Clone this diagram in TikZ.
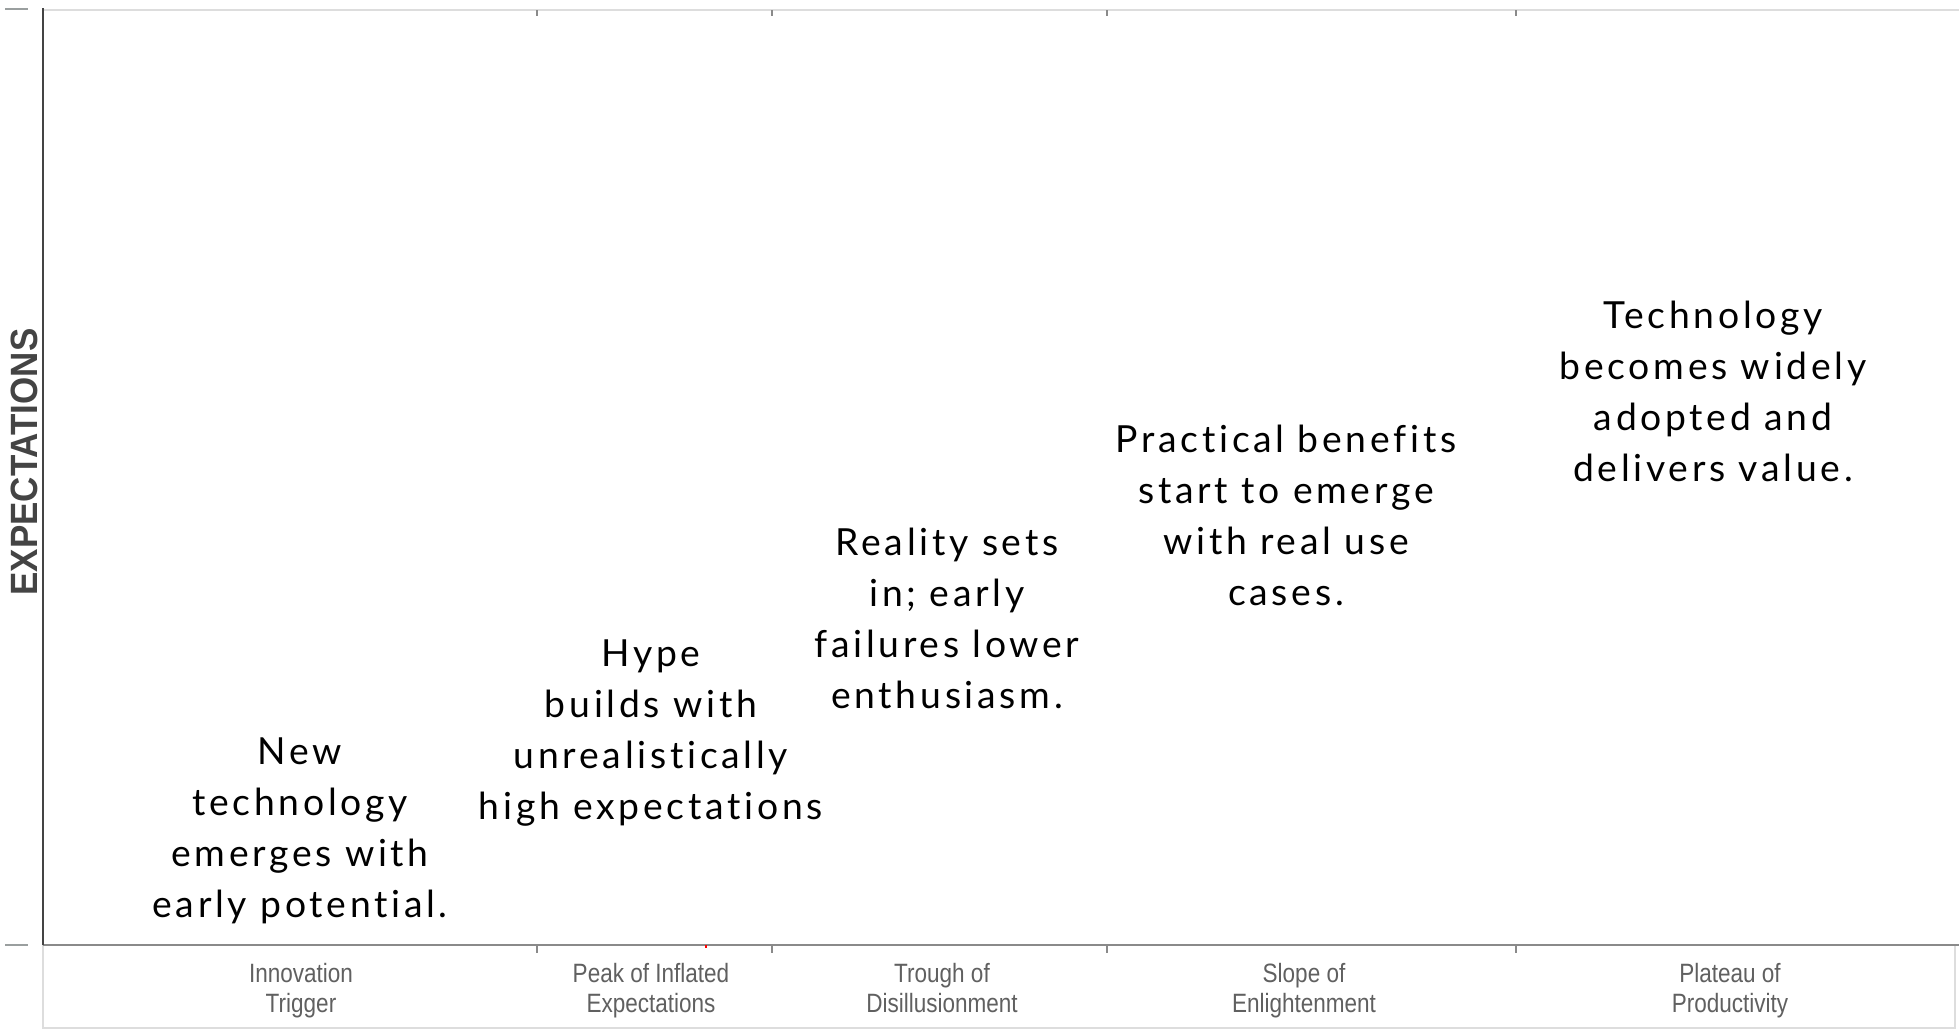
\documentclass[tikz,border=0pt]{standalone}
\usepackage{fontspec}
\setmainfont{Lato}[LetterSpace=10, Ligatures=NoCommon]
\newfontfamily\catfont{Liberation Sans}[FakeStretch=0.85]
\newfontfamily\axisfont{Liberation Sans}[FakeStretch=0.92]
\definecolor{axisdark}{HTML}{444444}
\definecolor{framegray}{HTML}{DDDDDD}
\definecolor{basegray}{HTML}{8A8A8A}
\definecolor{labelgray}{HTML}{606060}
\definecolor{tickgray}{HTML}{9A9F9F}
\begin{document}
\begin{tikzpicture}[x=1pt,y=-1pt,
  phase/.style={align=center, text=black, inner sep=0pt,
    font=\fontsize{37.3}{51}\selectfont},
  category/.style={align=center, text=labelgray, inner sep=0pt, anchor=north,
    font=\catfont\fontsize{26.5}{30}\selectfont},
  septick/.style={draw=basegray, line width=1.2pt}
]
\useasboundingbox[fill=white] (0,0) rectangle (1959,1031);

% frame of the plot area and the category strip
\draw[framegray, line width=2pt] (43,10) -- (1959,10);
\draw[framegray, line width=2pt] (43,945) -- (43,1028) -- (1955,1028) -- (1955,945);
\draw[basegray, line width=2pt] (43,945) -- (1959,945);
\draw[axisdark, line width=2.6pt] (43,8) -- (43,945);

% small marks left of the axis
\draw[tickgray, line width=2.4pt] (5,9) -- (28,9);
\draw[tickgray, line width=2pt] (5,945) -- (28,945);

% separators between phases
\foreach \sx in {537,772,1107,1516}{
  \draw[septick] (\sx,10) -- (\sx,16);
  \draw[septick] (\sx,945) -- (\sx,953);
}
\draw[red, line width=1.5pt] (706,945) -- (706,948);

% axis title
\node[rotate=90, text=axisdark, inner sep=0pt, font=\axisfont\bfseries\fontsize{38}{38}\selectfont]
  (ylabel) at (24,462) {EXPECTATIONS};

% phase names
\node[category] (c1) at (301,961) {\strut Innovation\\Trigger};
\node[category] (c2) at (651,961) {\strut Peak of Inflated\\Expectations};
\node[category] (c3) at (942,961) {\strut Trough of\\Disillusionment};
\node[category] (c4) at (1304,961) {\strut Slope of\\Enlightenment};
\node[category] (c5) at (1730,961) {\strut Plateau of\\Productivity};

% descriptions
\node[phase] (t1) at (300,831) {New\\technology\\emerges with\\early potential.};
\node[phase] (t2) at (651,733) {Hype\\builds with\\unrealistically\\high expectations};
\node[phase] (t3) at (947,618) {Reality sets\\in; early\\failures lower\\enthusiasm.};
\node[phase] (t4) at (1286,515) {Practical benefits\\start to emerge\\with real use\\cases.};
\node[phase] (t5) at (1713,391) {Technology\\becomes widely\\adopted and\\delivers value.};
\end{tikzpicture}
\end{document}
